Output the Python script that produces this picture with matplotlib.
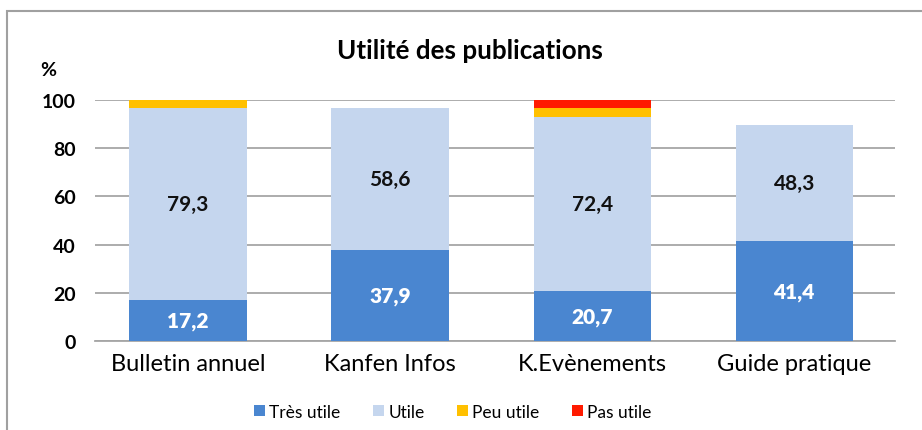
import matplotlib
matplotlib.use("Agg")
import matplotlib.pyplot as plt
from matplotlib.patches import Rectangle
import numpy as np

plt.rcParams['font.family'] = ['Lato', 'DejaVu Sans']

categories = ["Bulletin annuel", "Kanfen Infos", "K.Evènements", "Guide pratique"]
series_names = ["Très utile", "Utile", "Peu utile", "Pas utile"]
tres_utile = [17.2, 37.9, 20.7, 41.4]
utile = [79.3, 58.6, 72.4, 48.3]
peu_utile = [3.4, 0.0, 3.4, 0.0]
pas_utile = [0.0, 0.0, 3.4, 0.0]
colors = ["#4a86d0", "#c5d6ee", "#ffc000", "#ff1a00"]
yticks = [0, 20, 40, 60, 80, 100]

fig = plt.figure(figsize=(9.22, 4.31), dpi=100)
fig.patches.append(Rectangle((7/922, -0.1), 1.0, 1 - 12/431 + 0.1, transform=fig.transFigure,
                             fill=False, edgecolor="#a0a0a0", linewidth=1.5, zorder=0))
ax = fig.add_axes([0.103, 0.2065, 0.868, 0.5592])

x = np.arange(len(categories))
w = 0.58
bottom = np.zeros(len(categories))
data = [tres_utile, utile, peu_utile, pas_utile]
for name, vals, c in zip(series_names, data, colors):
    ax.bar(x, vals, w, bottom=bottom, color=c, label=name, zorder=3)
    bottom += np.array(vals)

for i in range(len(categories)):
    ax.text(x[i], tres_utile[i] / 2, f"{tres_utile[i]:.1f}".replace(".", ","), ha="center", va="center",
            color="white", fontsize=15, fontweight="heavy", zorder=4)
    ax.text(x[i], tres_utile[i] + utile[i] / 2, f"{utile[i]:.1f}".replace(".", ","), ha="center", va="center",
            color="#111111", fontsize=15, fontweight="bold", zorder=4)

ax.set_xlim(-0.46, 3.5)
ax.set_ylim(0, 100)
ax.set_yticks(yticks)
ax.set_xticks(x)
ax.set_xticklabels(categories, fontsize=17)
ax.tick_params(axis="y", labelsize=14, length=0, pad=14)
ax.tick_params(axis="x", length=0, pad=9)
for lab in ax.get_yticklabels():
    lab.set_fontweight("bold")
ax.grid(axis="y", color="#a6a6a6", linewidth=1.3, zorder=0)
for s in ["top", "right", "left"]:
    ax.spines[s].set_visible(False)
ax.spines["bottom"].set_color("#a6a6a6")
ax.spines["bottom"].set_linewidth(1.3)

fig.text(470/922, 1 - 51/431, "Utilité des publications", ha="center", va="center", fontsize=18.7, fontweight="bold")
fig.text(48/922, 1 - 70/431, "%", ha="center", va="center", fontsize=14, fontweight="bold")

fig.legend(loc="center", bbox_to_anchor=(453/922, 1 - 413/431), ncol=4, frameon=False, fontsize=12.5,
           handlelength=0.6, handleheight=0.6, columnspacing=1.9, handletextpad=0.25)

fig.savefig("out.png", dpi=100)
